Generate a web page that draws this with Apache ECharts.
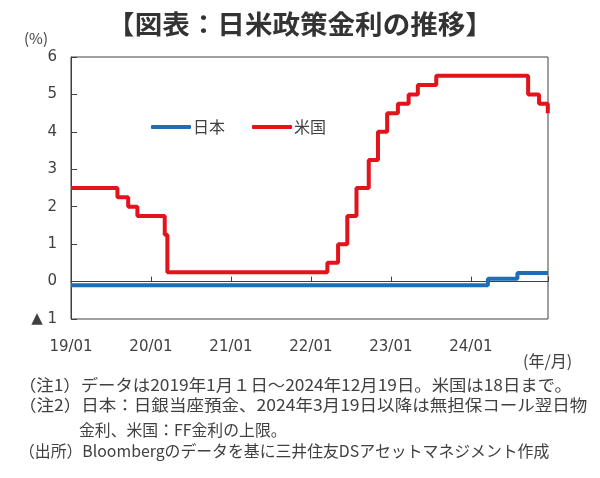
<!DOCTYPE html>
<html><head><meta charset="utf-8">
<script src="https://cdn.jsdelivr.net/npm/echarts@6/dist/echarts.min.js"></script>
<style>html,body{margin:0;padding:0;background:#fff}#c{width:600px;height:478px}</style>
</head><body><div id="c"></div>
<script>
const chartTitle = '【図表：日米政策金利の推移】';
const unitY = '(%)';
const unitX = '(年/月)';
const xTickLabels = ['19/01','20/01','21/01','22/01','23/01','24/01'];
const startDate = '2019-01-01';
const endDate = '2024-12-19';
const usEndDate = '2024-12-18';
const seriesNames = ['日本','米国'];
const jpDates = ['2019-01-01','2024-03-19','2024-08-01'];
const jpRates = [-0.10, 0.077, 0.227];
const usDates = ['2019-01-01','2019-08-01','2019-09-19','2019-10-31','2020-03-04','2020-03-16',
  '2022-03-17','2022-05-05','2022-06-16','2022-07-28','2022-09-22','2022-11-03','2022-12-15',
  '2023-02-02','2023-03-23','2023-05-04','2023-07-27','2024-09-19','2024-11-08','2024-12-18'];
const usRates = [2.50,2.25,2.00,1.75,1.25,0.25,0.50,1.00,1.75,2.50,3.25,4.00,4.50,4.75,5.00,5.25,5.50,5.00,4.75,4.50];
const notes = [
  '（注1）データは2019年1月１日～2024年12月19日。米国は18日まで。',
  '（注2）日本：日銀当座預金、2024年3月19日以降は無担保コール翌日物',
  '金利、米国：FF金利の上限。',
  '（出所）Bloombergのデータを基に三井住友DSアセットマネジメント作成'
];

const baseYear = 2019;
function yf(s){
  const d = Date.parse(s + 'T00:00:00Z');
  const y = new Date(d).getUTCFullYear();
  const st = Date.UTC(y,0,1), en = Date.UTC(y+1,0,1);
  return y - baseYear + (d - st)/(en - st);
}
function steps(dates, rates, end){
  const out = [];
  for (let i=0;i<dates.length;i++){
    const x = yf(dates[i]);
    if (i>0) out.push([x, rates[i-1]]);
    out.push([x, rates[i]]);
  }
  out.push([yf(end), rates[rates.length-1]]);
  return out;
}
const xMin = yf(startDate), xMax = yf(endDate);
const txt = '#404040';
const cjk = '"Noto Sans CJK JP", sans-serif';
const num = '"DejaVu Sans", sans-serif';

function note(text, x, y, sx){
  return {type:'text', x:x, y:y, scaleX:sx, style:{text:text, font:'16px ' + cjk, fill:txt, align:'left', verticalAlign:'middle'}};
}

const chart = echarts.init(document.getElementById('c'), null, {renderer:'canvas'});
chart.setOption({
  animation:false,
  backgroundColor:'#fff',
  grid:{left:71, right:52, top:57, bottom:159, show:true, borderColor:'#404040', borderWidth:1},
  legend:{data:seriesNames, left:146, top:114, itemWidth:40, itemHeight:4, itemGap:27, icon:'roundRect',
    textStyle:{fontSize:16, color:txt, fontFamily:cjk, padding:[0,0,0,-3]}},
  xAxis:[
    {type:'value', min:xMin, max:xMax, interval:1, position:'bottom',
      axisLine:{show:false, onZero:false}, axisTick:{show:false}, splitLine:{show:false},
      axisLabel:{fontSize:15, color:txt, fontFamily:num, margin:21, showMaxLabel:false,
        formatter:v => (Math.abs(v-Math.round(v))<1e-6 && xTickLabels[Math.round(v)]) ? xTickLabels[Math.round(v)] : ''}},
    {type:'value', min:xMin, max:xMax, interval:1, position:'bottom',
      axisLine:{show:true, onZero:true, lineStyle:{color:'#404040', width:1}},
      axisTick:{show:true, inside:true, length:5, lineStyle:{color:'#404040'}},
      axisLabel:{show:false}, splitLine:{show:false}}
  ],
  yAxis:{type:'value', min:-1, max:6, interval:1,
    axisLine:{show:true, lineStyle:{color:'#404040'}},
    axisTick:{show:true, inside:true, length:6, lineStyle:{color:'#404040'}},
    splitLine:{show:false},
    axisLabel:{fontSize:15, color:txt, fontFamily:num, margin:14,
      formatter:v => v<0 ? '▲ ' + Math.abs(v) : String(v)}},
  series:[
    {name:seriesNames[0], type:'line', xAxisIndex:0, data:steps(jpDates, jpRates, endDate), showSymbol:false,
      lineStyle:{width:4, color:'#1e6eb4'}, itemStyle:{color:'#1e6eb4'}, z:3},
    {name:seriesNames[1], type:'line', xAxisIndex:0, data:steps(usDates, usRates, usEndDate), showSymbol:false,
      lineStyle:{width:4, color:'#e3131b'}, itemStyle:{color:'#e3131b'}, z:4}
  ],
  graphic:[
    {type:'text', x:300, y:24, scaleX:1.06, style:{text:chartTitle, font:'bold 26px ' + cjk, fill:'#333', align:'center', verticalAlign:'middle'}},
    {type:'text', x:24, y:38, style:{text:unitY, font:'15px ' + cjk, fill:txt, align:'left', verticalAlign:'middle'}},
    {type:'text', x:523, y:361, style:{text:unitX, font:'16px ' + cjk, fill:txt, align:'left', verticalAlign:'middle'}},
    note(notes[0], 19, 385, 1.085),
    note(notes[1], 19, 405, 1.095),
    note(notes[2], 79, 430, 0.99),
    note(notes[3], 19, 451, 0.99)
  ]
});
</script></body></html>
